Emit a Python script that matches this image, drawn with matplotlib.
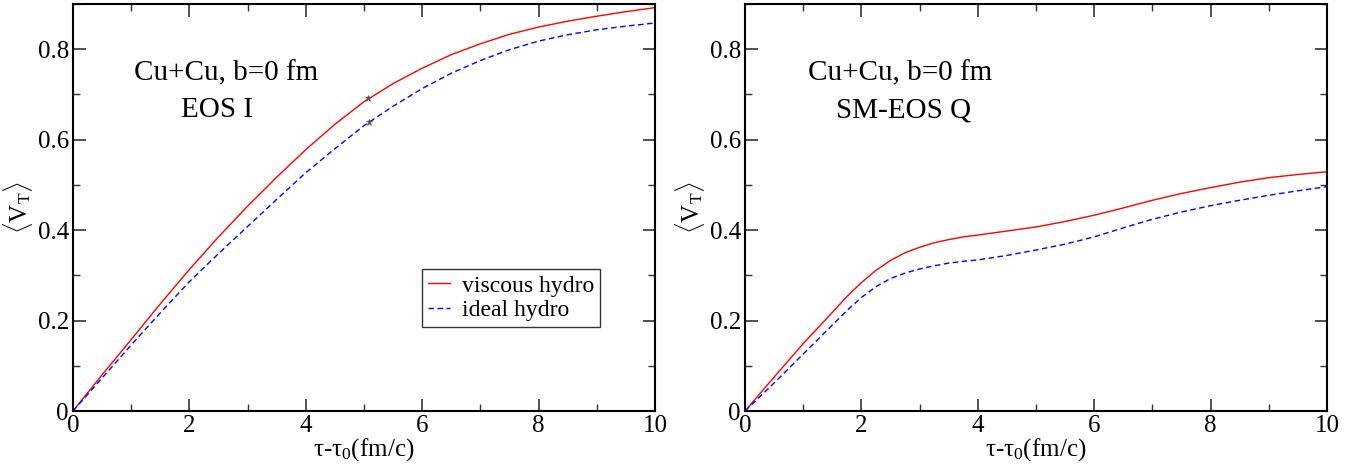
import matplotlib
matplotlib.use("Agg")
import matplotlib.pyplot as plt
from matplotlib.ticker import MultipleLocator, FuncFormatter

plt.rcParams['font.family'] = ['Liberation Serif', 'DejaVu Serif']
plt.rcParams['mathtext.fontset'] = 'custom'
plt.rcParams['mathtext.rm'] = 'Liberation Serif'
plt.rcParams['mathtext.it'] = 'Liberation Serif:italic'

# EOS I panel
t_left = [0, 0.5, 1, 1.5, 2, 2.5, 3, 3.5, 4, 4.5, 5, 5.5, 6, 6.5, 7, 7.5, 8, 8.5, 9, 9.5, 10]
visc_left = [0, 0.08, 0.158, 0.237, 0.313, 0.385, 0.453, 0.517, 0.578, 0.634, 0.684, 0.724, 0.758, 0.788, 0.812, 0.833, 0.849, 0.862, 0.873, 0.883, 0.892]
ideal_left = [0, 0.073, 0.146, 0.217, 0.286, 0.348, 0.408, 0.468, 0.527, 0.58, 0.631, 0.674, 0.713, 0.747, 0.775, 0.799, 0.818, 0.832, 0.843, 0.851, 0.858]
star_t = [5.07, 5.08]
star_v = [0.692, 0.638]

# SM-EOS Q panel
t_right = [0, 0.5, 1, 1.5, 1.75, 2, 2.25, 2.5, 2.75, 3, 3.25, 3.5, 3.75, 4, 4.5, 5, 5.5, 6, 6.5, 7, 7.5, 8, 8.5, 9, 9.5, 10]
visc_right = [0, 0.075, 0.149, 0.218, 0.253, 0.284, 0.311, 0.333, 0.35, 0.362, 0.372, 0.379, 0.385, 0.389, 0.398, 0.407, 0.419, 0.433, 0.449, 0.466, 0.481, 0.494, 0.506, 0.516, 0.523, 0.529]
ideal_right = [0, 0.062, 0.126, 0.19, 0.222, 0.251, 0.275, 0.293, 0.305, 0.314, 0.321, 0.327, 0.331, 0.334, 0.344, 0.356, 0.369, 0.385, 0.405, 0.424, 0.44, 0.454, 0.466, 0.477, 0.487, 0.496]

fig = plt.figure(figsize=(13.72, 4.70), dpi=100)
ax1 = fig.add_axes([73/1372, 59/470, 582/1372, 407/470])
ax2 = fig.add_axes([745/1372, 59/470, 582/1372, 407/470])

def style(ax):
    ax.set_xlim(0, 10)
    ax.set_ylim(0, 0.9)
    ax.xaxis.set_major_locator(MultipleLocator(2))
    ax.xaxis.set_minor_locator(MultipleLocator(1))
    ax.yaxis.set_major_locator(MultipleLocator(0.2))
    ax.yaxis.set_minor_locator(MultipleLocator(0.1))
    ax.yaxis.set_major_formatter(FuncFormatter(lambda v, p: '0' if abs(v) < 1e-9 else f'{v:.1f}'))
    ax.tick_params(which='both', direction='in', top=True, right=True, labelsize=18, color='#333333')
    ax.tick_params(which='major', length=9, width=1.2, pad=3)
    ax.tick_params(which='minor', length=5, width=1.0)
    for s in ax.spines.values():
        s.set_linewidth(1.5)
    ax.set_xlabel(r'τ-τ$_0$(fm/c)', fontsize=18, labelpad=-1)
    ax.set_ylabel(r'$\langle\mathrm{V}_\mathrm{T}\rangle$', fontsize=18, labelpad=2)

ax1.plot(t_left, visc_left, color='red', lw=1.0, label='viscous hydro')
ax1.plot(t_left, ideal_left, color='blue', lw=1.0, ls=(0, (4, 2.5)), label='ideal hydro')
ax1.plot(star_t, star_v, ls='none', marker='*', color='#555555', ms=5, mew=0.5)
style(ax1)
ax1.text(2.63, 0.731, 'Cu+Cu, b=0 fm', fontsize=21, ha='center', va='baseline')
ax1.text(2.48, 0.650, 'EOS I', fontsize=21, ha='center', va='baseline')
leg = ax1.legend(loc='lower left', bbox_to_anchor=(0.6, 0.206), fontsize=17, frameon=True,
                 fancybox=False, edgecolor='black', handlelength=0.95, borderpad=0.24,
                 labelspacing=0.14, handletextpad=0.5, borderaxespad=0)
leg.get_frame().set_linewidth(1.0)

ax2.plot(t_right, visc_right, color='red', lw=1.0)
ax2.plot(t_right, ideal_right, color='blue', lw=1.0, ls=(0, (4, 2.5)))
style(ax2)
ax2.text(2.67, 0.731, 'Cu+Cu, b=0 fm', fontsize=21, ha='center', va='baseline')
ax2.text(2.73, 0.650, 'SM-EOS Q', fontsize=21, ha='center', va='baseline')

fig.savefig('out.png', dpi=100)
